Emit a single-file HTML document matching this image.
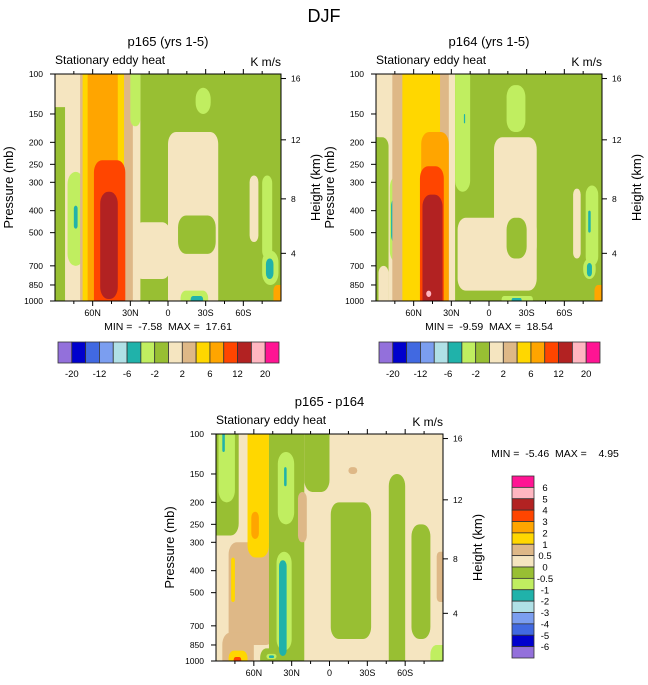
<!DOCTYPE html>
<html><head><meta charset="utf-8"><style>
body{margin:0;background:#fff;}
svg{display:block;font-family:"Liberation Sans",sans-serif;}
text{white-space:pre;}
</style></head><body>
<svg id="fig" width="648" height="685" viewBox="0 0 648 685" xmlns="http://www.w3.org/2000/svg">
<text x="324" y="22" font-size="18" text-anchor="middle">DJF</text>
</svg>
<script>
// ---- data ----
const palette = ["#9370DB","#0000CD","#4169E1","#7B9EF0","#B0E0E6","#20B2AA","#C0EE60","#98BF33","#F5E5C0","#DEB887","#FFD700","#FFA500","#FF4500","#B22222","#FFB6C1","#FF1493"];
const topLevelLabels = ["-20","-12","-6","-2","2","6","12","20"];
const diffLevelLabels = ["6","5","4","3","2","1","0.5","0","-0.5","-1","-2","-3","-4","-5","-6"];
const latTicks = [60,30,0,-30,-60];
const latTickLabels = ["60N","30N","0","30S","60S"];
const presTicks = [100,150,200,250,300,400,500,700,850,1000];
const heightTicks = [16,12,8,4];
const heightTickY = [0.02,0.29,0.55,0.79];
const panelTitles = ["p165 (yrs 1-5)","p164 (yrs 1-5)","p165 - p164"];
const panelStats = ["MIN =  -7.58  MAX =  17.61","MIN =  -9.59  MAX =  18.54","MIN =  -5.46  MAX =    4.95"];
// blobs: [lat1, lat2, pTop, pBottom, colorIndex]
const blobsP165 = [
 [90,70,100,140,8],[82,22,100,1000,8],[80,67,270,700,6],[75,72,380,480,5],
 [70,28,100,1000,9],[68,35,100,1000,10],[64,40,100,1000,11],[59,34,240,1000,12],[54,40,330,980,13],
 [30,22,100,170,6],[27,-2,450,800,8],[0,-40,180,1000,8],[-8,-38,420,620,7],[-22,-34,115,150,6],
 [-65,-72,280,550,8],[-75,-83,280,650,6],[-75,-88,600,850,6],[-78,-84,650,800,5],
 [-10,-32,900,1000,6],[-18,-28,950,1000,5],[-84,-90,850,1000,11]
];
const blobsP164 = [
 [90,78,100,190,8],[88,27,100,1000,8],[90,80,190,1000,7],[88,80,700,1000,8],[79,65,280,680,6],[78,69,350,560,5],
 [77,32,100,1000,9],[69,39,100,1000,10],[54,32,180,1000,11],[55,36,255,1000,12],[53,37,340,1000,13],[50,46,900,960,14],
 [27,15,100,330,6],[20,19,150,165,5],[-4,-38,190,650,8],[25,-38,430,900,8],[-14,-30,430,650,7],[-14,-29,112,180,6],
 [-67,-73,320,650,8],[-77,-87,310,700,6],[-79,-81,400,500,5],[-75,-85,650,800,6],[-78,-82,680,780,5],
 [-10,-35,950,1000,6],[-18,-26,970,1000,5],[-84,-90,850,1000,11]
];
const blobsDiff = [
 [90,72,100,280,7],[88,75,100,200,6],[85,83,100,120,5],[80,44,300,850,9],[78,75,350,550,10],
 [65,48,100,350,10],[62,56,220,290,11],
 [48,20,100,1000,7],[41,28,120,250,6],[36,34,140,170,5],[42,30,330,900,6],[40,34,360,950,5],
 [20,0,100,180,7],[25,18,180,300,9],[-1,-33,200,800,7],[-15,-22,140,150,9],
 [-47,-60,150,1000,7],[-65,-80,250,800,7],[-85,-90,330,550,9],
 [85,60,750,1000,9],[80,65,900,1000,10],[76,70,960,1000,12],
 [55,40,880,1000,7],[50,42,930,980,6],[48,44,945,970,5],[-80,-90,850,1000,6]
];
// ---- drawing ----
const NS="http://www.w3.org/2000/svg";
const svg=document.getElementById('fig');
function mk(tag,attrs,parent){const e=document.createElementNS(NS,tag);for(const k in attrs)e.setAttribute(k,attrs[k]);(parent||svg).appendChild(e);return e;}
function txt(s,attrs,parent){const e=mk('text',attrs,parent);e.textContent=s;return e;}

function drawPanel(idx,x0,y0,w,h,blobs,bg){
  const g=mk('g',{});
  
  
  const xs=lat=>x0+(90-lat)/180*w;
  const ys=p=>y0+(Math.log10(p)-2)*h;
  const clip=mk('clipPath',{id:'c'+idx},g);
  mk('rect',{x:x0,y:y0,width:w,height:h},clip);
  const cg=mk('g',{'clip-path':'url(#c'+idx+')'},g);
  const bgr=mk('rect',{x:x0,y:y0,width:w,height:h,fill:palette[bg]},cg);
  
  
  blobs.forEach(b=>{
    let xa=xs(b[0]),xb=xs(b[1]),ya=ys(b[2]),yb=ys(b[3]);
    const bw=xb-xa;
    const r=Math.min(bw/2,(yb-ya)/2,8);
    if(b[2]<=100) ya-=r+2;
    if(b[3]>=1000) yb+=r+2;
    if(b[0]>=90) xa-=r+2;
    if(b[1]<=-90) xb+=r+2;
    const e=mk('rect',{x:xa,y:ya,width:xb-xa,height:yb-ya,rx:r,ry:r*1.5,fill:palette[b[4]]},cg);
    
    
  });
  const fr=mk('rect',{x:x0,y:y0,width:w,height:h,fill:'none',stroke:'#000','stroke-width':1},g);
  
  
  for(let lat=75;lat>=-75;lat-=15){
    const x=xs(lat);const major=lat%30===0;const L=major?5:3;
    mk('line',{x1:x,x2:x,y1:y0+h,y2:y0+h+L,stroke:'#000'},g);
    mk('line',{x1:x,x2:x,y1:y0,y2:y0-L,stroke:'#000'},g);
  }
  latTicks.forEach((lat,i)=>{
    const t=txt(latTickLabels[i],{x:xs(lat),y:y0+h+15,'font-size':9,'text-anchor':'middle'},g);
    
    
  });
  presTicks.forEach(p=>{
    const y=ys(p);
    mk('line',{x1:x0,x2:x0-5,y1:y,y2:y,stroke:'#000'},g);
    const t=txt(String(p),{x:x0-12,y:y+3,'font-size':8.5,'text-anchor':'end'},g);
    
    
  });
  heightTicks.forEach((hv,i)=>{
    const y=y0+heightTickY[i]*h;
    mk('line',{x1:x0+w,x2:x0+w+5,y1:y,y2:y,stroke:'#000'},g);
    const t=txt(String(hv),{x:x0+w+10,y:y+3,'font-size':8.5},g);
    
    
  });
  const yl=txt('Pressure (mb)',{x:0,y:0,'font-size':13,'text-anchor':'middle',transform:`translate(${x0-42},${y0+h/2}) rotate(-90)`},g);
  
  
  const hl=txt('Height (km)',{x:0,y:0,'font-size':13,'text-anchor':'middle',transform:`translate(${x0+w+39},${y0+h/2}) rotate(-90)`},g);
  
  
  const tl=txt(panelTitles[idx],{x:x0+w/2,y:y0-28,'font-size':13,'text-anchor':'middle'},g);
  
  
  const ll=txt('Stationary eddy heat',{x:x0,y:y0-10,'font-size':12},g);
  
  
  const rl=txt('K m/s',{x:x0+w,y:y0-8,'font-size':12,'text-anchor':'end'},g);
  
  
}
drawPanel(0,55,74,226,227,blobsP165,7);
drawPanel(1,376,74,226,227,blobsP164,7);
drawPanel(2,216,434,227,227,blobsDiff,8);

[[168,330],[489,330],[555,457]].forEach((p,i)=>{
  const t=txt(panelStats[i],{x:p[0],y:p[1],'font-size':10.5,'text-anchor':'middle'});
  
  
});

function hbar(x0,name){
  const g=mk('g',{});
  
  
  const bw=221/16;
  palette.forEach((c,i)=>{
    const r=mk('rect',{x:x0+i*bw,y:342,width:bw,height:21,fill:c,stroke:'#333','stroke-width':0.8},g);
    
    
  });
  topLevelLabels.forEach((s,i)=>{
    const t=txt(s,{x:x0+(1+2*i)*bw,y:377,'font-size':9.5,'text-anchor':'middle'},g);
    
    
  });
}
hbar(58,'colorbar-left');
hbar(379,'colorbar-right');

(function(){
  const g=mk('g',{});
  
  
  const y0=476,bh=182/16;
  for(let i=0;i<16;i++){
    const r=mk('rect',{x:512,y:y0+i*bh,width:22,height:bh,fill:palette[15-i],stroke:'#333','stroke-width':0.8},g);
    
    
  }
  diffLevelLabels.forEach((s,i)=>{
    const t=txt(s,{x:545,y:y0+(i+1)*bh+3.5,'font-size':9.5,'text-anchor':'middle'},g);
    
    
  });
})();
</script>
</body></html>
